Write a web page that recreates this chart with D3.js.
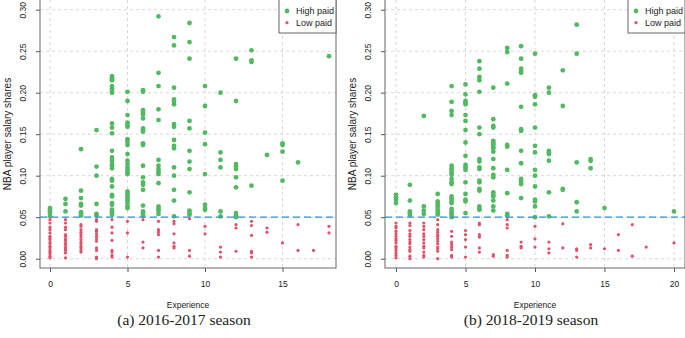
<!DOCTYPE html>
<html>
<head>
<meta charset="utf-8">
<script src="https://cdn.jsdelivr.net/npm/d3@7"></script>
<style>
body { margin: 0; background: #fff; }
text { font-family: "Liberation Sans", Arial, sans-serif; fill: #222; }
</style>
</head>
<body>
<div class="chart"></div>
<script>
// salary shares, one inner array per year of experience (index = years)
let high1617 = [
    [0.061, 0.059, 0.057, 0.055, 0.051],
    [0.072, 0.066, 0.057],
    [0.132, 0.082, 0.073, 0.066, 0.064, 0.056, 0.054, 0.052],
    [0.155, 0.111, 0.100, 0.066, 0.054, 0.052],
    [0.220, 0.218, 0.216, 0.215, 0.208, 0.205, 0.202, 0.200, 0.163, 0.158, 0.151, 0.130, 0.122, 0.118, 0.114, 0.112, 0.109, 0.096, 0.094, 0.087, 0.077, 0.075, 0.067, 0.065, 0.059, 0.057, 0.055, 0.053],
    [0.201, 0.190, 0.173, 0.164, 0.161, 0.159, 0.144, 0.141, 0.137, 0.126, 0.118, 0.114, 0.110, 0.107, 0.104, 0.102, 0.081, 0.078, 0.075, 0.072, 0.070, 0.067, 0.063, 0.061],
    [0.203, 0.201, 0.179, 0.176, 0.174, 0.169, 0.157, 0.155, 0.153, 0.139, 0.137, 0.112, 0.098, 0.092, 0.089, 0.083, 0.064, 0.057, 0.055, 0.052],
    [0.292, 0.224, 0.208, 0.180, 0.167, 0.119, 0.112, 0.108, 0.105, 0.102, 0.091, 0.063, 0.060, 0.058, 0.054],
    [0.267, 0.257, 0.206, 0.192, 0.189, 0.186, 0.162, 0.159, 0.143, 0.136, 0.133, 0.110, 0.100, 0.083, 0.070, 0.051],
    [0.284, 0.261, 0.241, 0.166, 0.157, 0.130, 0.117, 0.108, 0.080, 0.058, 0.055, 0.053],
    [0.208, 0.184, 0.152, 0.138, 0.102, 0.065, 0.061, 0.059],
    [0.200, 0.128, 0.119, 0.110, 0.057, 0.051],
    [0.241, 0.190, 0.114, 0.111, 0.108, 0.098, 0.086, 0.055, 0.052, 0.050],
    [0.251, 0.239, 0.237, 0.088],
    [0.125],
    [0.139, 0.137, 0.129, 0.094],
    [0.116],
    [],
    [0.244]
]
let low1617 = [
    [0.047, 0.043, 0.038, 0.035, 0.031, 0.027, 0.025, 0.023, 0.020, 0.018, 0.015, 0.013, 0.010, 0.008, 0.006, 0.003, 0.001],
    [0.047, 0.043, 0.038, 0.035, 0.029, 0.027, 0.024, 0.022, 0.019, 0.017, 0.014, 0.012, 0.010, 0.007, 0.001],
    [0.041, 0.039, 0.035, 0.032, 0.029, 0.026, 0.023, 0.020, 0.018, 0.015, 0.013, 0.010, 0.008],
    [0.047, 0.045, 0.035, 0.033, 0.030, 0.027, 0.024, 0.021, 0.013, 0.010, 0.002, 0.000],
    [0.047, 0.038, 0.031, 0.022, 0.010, 0.008, 0.004, 0.002],
    [0.045, 0.031, 0.002],
    [0.047, 0.020, 0.013],
    [0.045, 0.035, 0.032, 0.029, 0.010, 0.002],
    [0.045, 0.042, 0.030, 0.019, 0.015, 0.013],
    [0.048, 0.010, 0.003],
    [0.039, 0.030],
    [0.014, 0.008, 0.002],
    [0.041, 0.037, 0.009],
    [0.045, 0.040, 0.028, 0.009, 0.007, 0.002],
    [0.037, 0.032],
    [0.019],
    [0.041, 0.010],
    [0.010],
    [0.039, 0.031]
]
let high1819 = [
    [0.077, 0.074, 0.071, 0.067],
    [0.089, 0.070, 0.057, 0.055, 0.053],
    [0.172, 0.063, 0.058, 0.054],
    [0.078, 0.069, 0.066, 0.063, 0.059, 0.056, 0.053],
    [0.208, 0.189, 0.178, 0.173, 0.112, 0.109, 0.107, 0.104, 0.101, 0.096, 0.092, 0.090, 0.075, 0.072, 0.069, 0.067, 0.060, 0.057, 0.055, 0.053, 0.050],
    [0.210, 0.198, 0.190, 0.188, 0.186, 0.173, 0.166, 0.155, 0.140, 0.124, 0.113, 0.110, 0.107, 0.092, 0.078, 0.071, 0.069, 0.055],
    [0.238, 0.229, 0.219, 0.215, 0.201, 0.158, 0.150, 0.120, 0.117, 0.110, 0.108, 0.094, 0.092, 0.084, 0.082, 0.063, 0.060, 0.059],
    [0.206, 0.168, 0.160, 0.158, 0.142, 0.140, 0.138, 0.135, 0.133, 0.129, 0.120, 0.109, 0.101, 0.098, 0.080, 0.077, 0.075, 0.070, 0.063, 0.058],
    [0.254, 0.249, 0.211, 0.137, 0.135, 0.107, 0.079, 0.054, 0.052],
    [0.256, 0.241, 0.229, 0.226, 0.224, 0.183, 0.156, 0.154, 0.130, 0.115, 0.096, 0.093, 0.090, 0.073],
    [0.247, 0.197, 0.195, 0.186, 0.158, 0.136, 0.128, 0.107, 0.100, 0.087, 0.071, 0.069, 0.063, 0.050],
    [0.206, 0.200, 0.130, 0.128, 0.126, 0.118, 0.080, 0.051],
    [0.227, 0.184, 0.084, 0.083],
    [0.282, 0.247, 0.116, 0.068, 0.057],
    [0.120, 0.118, 0.109],
    [0.061],
    [], [], [], [],
    [0.057]
]
let low1819 = [
    [0.043, 0.039, 0.037, 0.033, 0.030, 0.027, 0.024, 0.022, 0.019, 0.015, 0.013, 0.010, 0.007, 0.004, 0.001],
    [0.043, 0.040, 0.034, 0.030, 0.027, 0.023, 0.020, 0.018, 0.014, 0.011, 0.009, 0.003, 0.000],
    [0.043, 0.039, 0.035, 0.030, 0.027, 0.023, 0.019, 0.015, 0.013, 0.008, 0.004, 0.002],
    [0.047, 0.041, 0.035, 0.032, 0.029, 0.027, 0.024, 0.021, 0.018, 0.014, 0.012, 0.009, 0.000],
    [0.033, 0.027, 0.020, 0.017, 0.014, 0.011, 0.004, 0.002],
    [0.034, 0.029, 0.023, 0.014, 0.002],
    [0.043, 0.041, 0.029, 0.026, 0.013, 0.008],
    [0.005, 0.003],
    [0.047, 0.041, 0.037, 0.010, 0.004, 0.002],
    [0.020, 0.015, 0.013],
    [0.039, 0.024, 0.014],
    [0.020, 0.012, 0.007],
    [0.042, 0.013],
    [0.012, 0.010, 0.002],
    [0.017, 0.013],
    [0.012],
    [0.029, 0.010],
    [0.041, 0.003],
    [0.014],
    [],
    [0.019]
]
let yTicks = [0, 0.05, 0.10, 0.15, 0.20, 0.25, 0.30]
let xTicks1617 = [0, 5, 10, 15]
let xTicks1819 = [0, 5, 10, 15, 20]
let cutoff = 0.05
let legendLabels = ['High paid', 'Low paid']
let captions = ['(a) 2016-2017 season', '(b) 2018-2019 season']

var green = '#52b963', pink = '#df536b', blue = '#2f92d4';

let svg = d3.select('.chart')
    .append('svg')
    .attr('width', 685)
    .attr('height', 338)

function flatten(cols) {
    let pts = []
    cols.forEach((vals, exp) => vals.forEach(v => pts.push({ exp: exp, share: v })))
    return pts
}

function drawPanel(p) {
    var top = 0, bottom = 268;
    var xScale = d3.scaleLinear().domain([0, p.xMax]).range(p.xRange);
    var yScale = d3.scaleLinear().domain([0, 0.3]).range([258.7, 9.7]);
    var g = svg.append('g');

    // dashed grid
    g.selectAll('.gy').data(yTicks).enter().append('line')
        .attr('x1', p.left).attr('x2', p.right)
        .attr('y1', d => yScale(d)).attr('y2', d => yScale(d))
        .attr('stroke', '#d8d8d8').attr('stroke-dasharray', '3,3');
    g.selectAll('.gx').data(p.xTicks).enter().append('line')
        .attr('x1', d => xScale(d)).attr('x2', d => xScale(d))
        .attr('y1', top).attr('y2', bottom)
        .attr('stroke', '#d8d8d8').attr('stroke-dasharray', '3,3');

    // axes (tick groups already sit at their y, so labels only shift left)
    var yAxis = d3.axisLeft(yScale).tickValues(yTicks).tickSize(4).tickFormat(d3.format('.2f'));
    var ya = g.append('g').attr('transform', `translate(${p.left},0)`).call(yAxis);
    ya.select('.domain').remove();
    ya.selectAll('line').attr('stroke', '#555');
    ya.selectAll('text')
        .attr('x', 0).attr('y', 0).attr('dy', '0.32em')
        .attr('transform', 'translate(-17,0) rotate(-90)')
        .style('text-anchor', 'middle')
        .style('font-size', '8.5px')
        .style('font-family', 'Liberation Sans, Arial, sans-serif')
        .attr('fill', '#222');

    var xAxis = d3.axisBottom(xScale).tickValues(p.xTicks).tickSize(4);
    var xa = g.append('g').attr('transform', `translate(0,${bottom})`).call(xAxis);
    xa.select('.domain').remove();
    xa.selectAll('line').attr('stroke', '#555');
    xa.selectAll('text')
        .attr('y', 13)
        .style('font-size', '8.5px')
        .style('font-family', 'Liberation Sans, Arial, sans-serif')
        .attr('fill', '#222');

    // points
    g.selectAll('.hi').data(flatten(p.high)).enter().append('circle')
        .attr('cx', d => xScale(d.exp)).attr('cy', d => yScale(d.share))
        .attr('r', 2.4).attr('fill', green);
    g.selectAll('.lo').data(flatten(p.low)).enter().append('circle')
        .attr('cx', d => xScale(d.exp)).attr('cy', d => yScale(d.share))
        .attr('r', 1.6).attr('fill', pink);

    // cutoff line
    g.append('line')
        .attr('x1', p.left).attr('x2', p.right)
        .attr('y1', yScale(cutoff)).attr('y2', yScale(cutoff))
        .attr('stroke', blue).attr('stroke-width', 1.3).attr('stroke-dasharray', '7,4');

    // box
    g.append('rect')
        .attr('x', p.left).attr('y', top - 0.5)
        .attr('width', p.right - p.left).attr('height', bottom - top + 0.5)
        .attr('fill', 'none').attr('stroke', '#666');

    // legend
    var lx = p.right - 57;
    var lg = g.append('g');
    lg.append('rect').attr('x', lx).attr('y', -1).attr('width', 57).attr('height', 34)
        .attr('fill', '#fff').attr('stroke', '#666');
    lg.append('circle').attr('cx', lx + 8).attr('cy', 11).attr('r', 2.4).attr('fill', green);
    lg.append('circle').attr('cx', lx + 8).attr('cy', 22.7).attr('r', 1.6).attr('fill', pink);
    lg.selectAll('.lt').data(legendLabels).enter().append('text')
        .attr('x', lx + 17).attr('y', (d, i) => 14.3 + i * 11.7)
        .style('font-size', '9px').text(d => d);

    // titles
    var cx = (p.left + p.right) / 2;
    g.append('text').attr('x', cx).attr('y', 308).attr('text-anchor', 'middle')
        .style('font-size', '8.5px').text('Experience');
    g.append('text')
        .attr('transform', `translate(${p.left - 29},134) rotate(-90)`)
        .attr('text-anchor', 'middle').style('font-size', '10px')
        .text('NBA player salary shares');
    g.append('text').attr('x', cx - 4).attr('y', 325).attr('text-anchor', 'middle')
        .style('font-family', 'Liberation Serif, Times New Roman, serif')
        .style('font-size', '15.5px').text(p.caption);
}

drawPanel({ left: 40, right: 336, xMax: 18, xRange: [50, 329], xTicks: xTicks1617,
    high: high1617, low: low1617, caption: captions[0] });
drawPanel({ left: 385, right: 685, xMax: 20, xRange: [396, 674], xTicks: xTicks1819,
    high: high1819, low: low1819, caption: captions[1] });
</script>
</body>
</html>
